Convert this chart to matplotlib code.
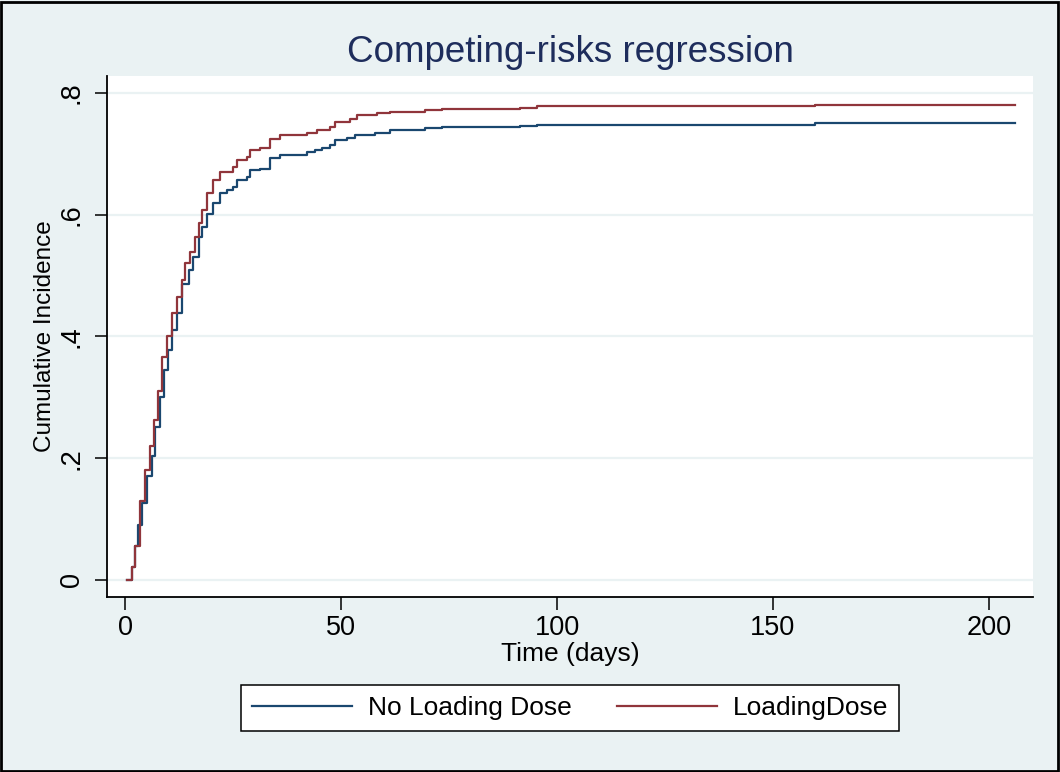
import matplotlib.pyplot as plt
from matplotlib.patches import Rectangle

plt.rcParams['font.family'] = ['Liberation Sans', 'DejaVu Sans']

# cumulative incidence (step functions)
t_no = [0.4, 1.5, 2.3, 3.0, 3.9, 5.0, 6.2, 6.9, 8.1, 8.9, 10.0, 10.8, 12.0, 13.1,
        14.7, 15.8, 17.0, 17.7, 18.9, 20.4, 22.0, 23.5, 25.0, 25.8, 28.2, 28.9,
        31.3, 33.6, 35.9, 39.7, 42.0, 44.0, 45.5, 47.5, 48.6, 51.3, 53.2, 57.9,
        61.3, 69.4, 73.3, 91.4, 95.3, 159.7, 206.0]
ci_no = [0.0, 0.022, 0.055, 0.09, 0.126, 0.17, 0.203, 0.252, 0.301, 0.345, 0.378,
         0.411, 0.438, 0.487, 0.509, 0.531, 0.564, 0.58, 0.602, 0.619, 0.635, 0.641,
         0.646, 0.657, 0.662, 0.673, 0.676, 0.693, 0.698, 0.698, 0.703, 0.706,
         0.709, 0.715, 0.723, 0.726, 0.731, 0.735, 0.739, 0.742, 0.745, 0.746,
         0.748, 0.751, 0.751]

t_ld = [0.4, 1.5, 2.3, 3.5, 4.6, 5.8, 6.6, 7.7, 8.5, 9.6, 10.8, 12.0, 13.1, 13.9,
        15.0, 16.2, 17.0, 17.7, 18.9, 20.4, 22.0, 25.0, 25.8, 28.2, 28.9, 31.3,
        33.6, 35.9, 42.0, 44.4, 47.5, 48.6, 52.0, 53.6, 58.3, 61.3, 69.4, 73.3,
        91.4, 95.3, 159.7, 206.0]
ci_ld = [0.0, 0.022, 0.055, 0.13, 0.18, 0.22, 0.263, 0.31, 0.367, 0.40, 0.438,
         0.465, 0.493, 0.52, 0.539, 0.564, 0.586, 0.608, 0.635, 0.657, 0.671,
         0.679, 0.69, 0.695, 0.706, 0.709, 0.725, 0.731, 0.734, 0.739, 0.745,
         0.752, 0.758, 0.764, 0.767, 0.769, 0.772, 0.774, 0.776, 0.779, 0.781, 0.781]

labels = ['No Loading Dose', 'LoadingDose']
colors = ['#1a476f', '#90353b']
xticks = [0, 50, 100, 150, 200]
yticks = [0, 0.2, 0.4, 0.6, 0.8]
yticklabels = ['0', '.2', '.4', '.6', '.8']

bg = '#eaf2f3'
fig = plt.figure(figsize=(10.6, 7.72), dpi=100, facecolor=bg)
ax = fig.add_axes([107/1060, 1 - 597/772, (1033 - 107)/1060, (597 - 76)/772])
ax.set_facecolor('white')

ax.step(t_no, ci_no, where='post', color=colors[0], lw=1.6, label=labels[0])
ax.step(t_ld, ci_ld, where='post', color=colors[1], lw=1.6, label=labels[1])

ax.set_xlim(-4.2, 210.2)
ax.set_ylim(-0.028, 0.828)
ax.set_xticks(xticks)
ax.set_yticks(yticks)
ax.set_yticklabels(yticklabels, rotation=90, va='center')
ax.grid(axis='y', color=bg, lw=1.6)
ax.set_axisbelow(True)
for s in ['top', 'right']:
    ax.spines[s].set_visible(False)
for s in ['left', 'bottom']:
    ax.spines[s].set_linewidth(1.3)
ax.tick_params(length=9, width=1.1, labelsize=19.5)
ax.tick_params(axis='x', pad=4)
ax.tick_params(axis='y', pad=7)

ax.set_xlabel('Time (days)', fontsize=19, labelpad=1)
ax.set_ylabel('Cumulative Incidence', fontsize=17.5, labelpad=2)
fig.text(570/1060, 1 - 52/772, 'Competing-risks regression', ha='center', va='center',
         fontsize=26.5, color='#1e2d5c')

leg = fig.legend(loc='center', bbox_to_anchor=(570/1060, 1 - 708/772), ncol=2,
                 fontsize=19, handlelength=3.8, columnspacing=1.7, handletextpad=0.6,
                 fancybox=False, edgecolor='black', framealpha=1,
                 borderpad=0.4, borderaxespad=0)
leg.get_frame().set_linewidth(1.1)

fig.patches.append(Rectangle((0.001, 0.001), 0.997, 0.997, transform=fig.transFigure,
                             fill=False, edgecolor='black', lw=2))

fig.savefig('out.png', dpi=100, facecolor=bg)
